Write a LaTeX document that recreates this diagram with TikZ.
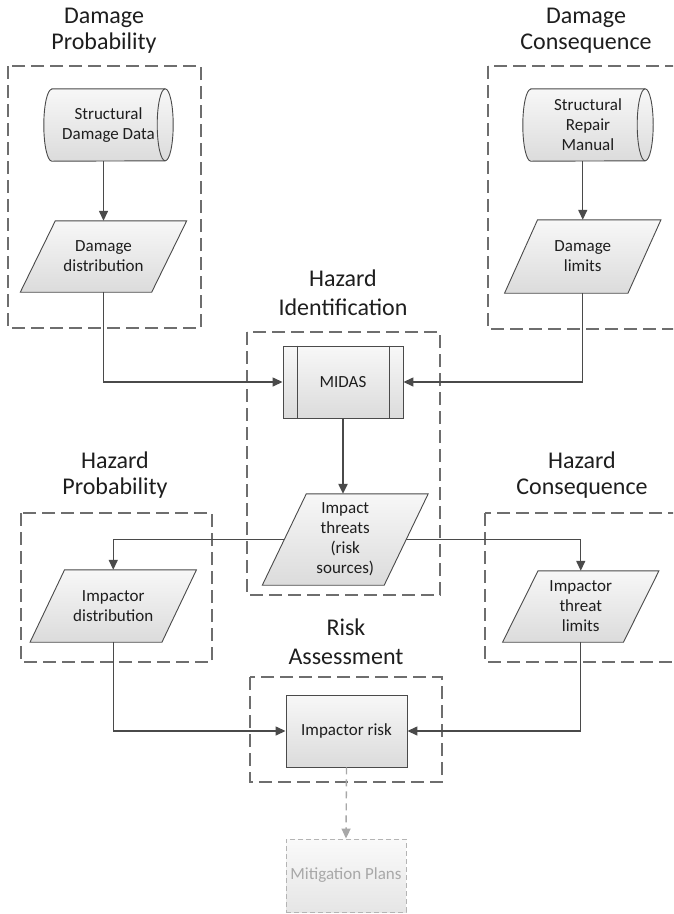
\documentclass[tikz,border=0pt]{standalone}
\usepackage{fontspec}
\setmainfont{Carlito}
\usetikzlibrary{shapes.geometric,arrows.meta,backgrounds}
\definecolor{linec}{HTML}{4A4A4A}
\definecolor{dashc}{HTML}{6E6E6E}
\definecolor{txt}{HTML}{1E1E1E}
\definecolor{mitc}{HTML}{A8A8A8}
\definecolor{mitl}{HTML}{B4B4B4}
\begin{document}
\begin{tikzpicture}[x=1pt,y=-1pt,
  grp/.style={draw=dashc,line width=1.2pt,dash pattern=on 13pt off 6pt},
  ttl/.style={font=\fontsize{24}{29}\selectfont,text=txt,anchor=base,inner sep=0pt},
  lbl/.style={font=\fontsize{17}{20}\selectfont,text=txt,align=center},
  shd/.style={top color=white!97!black,bottom color=white!86!black},
  proc/.style={lbl,shd,draw=linec,line width=0.9pt,minimum width=121pt,minimum height=72pt,inner sep=0pt},
  io/.style={lbl,inner sep=0pt},
  iop/.style={shd,draw=linec,line width=0.9pt},
  conn/.style={draw=linec,line width=1.4pt,-{Triangle[length=10pt,width=9pt]}},
  mit/.style={lbl,top color=white!98!black,bottom color=white!90!black,draw=mitl,line width=0.9pt,dash pattern=on 5pt off 3pt,text=mitc,minimum width=120pt,minimum height=73pt,inner sep=0pt},
  mitarrow/.style={draw=mitc,line width=1.4pt,dash pattern=on 7pt off 5pt,-{Triangle[length=10pt,width=9pt]}},
]
\useasboundingbox (0,0) rectangle (673,914);
\clip (0,0) rectangle (673,914);

% group boxes
\draw[grp] (8,66) rectangle (201,328);
\draw[grp] (488,66) rectangle (700,329);
\draw[grp] (247,332) rectangle (440,595);
\draw[grp] (21,513) rectangle (212,662);
\draw[grp] (485,513) rectangle (700,662);
\draw[grp] (250,677) rectangle (442,782);

% titles
\node[ttl] (t1a) at (104,23.5) {Damage};
\node[ttl] (t1b) at (104,49.5) {Probability};
\node[ttl] (t2a) at (586,23.5) {Damage};
\node[ttl] (t2b) at (586,49.5) {Consequence};
\node[ttl] (t3a) at (343,286) {Hazard};
\node[ttl] (t3b) at (343,315) {Identification};
\node[ttl] (t4a) at (115,468) {Hazard};
\node[ttl] (t4b) at (115,494) {Probability};
\node[ttl] (t5a) at (582,468) {Hazard};
\node[ttl] (t5b) at (582,494) {Consequence};
\node[ttl] (t6a) at (346,635) {Risk};
\node[ttl] (t6b) at (346,664) {Assessment};

% shapes
\node[io,minimum width=129pt,minimum height=72pt] (sdd) at (108.5,125) {Structural\\Damage Data};
\node[io,minimum width=130pt,minimum height=72pt] (srm) at (588,125) {Structural\\Repair\\Manual};
\node[io,minimum width=131pt,minimum height=71pt] (dd) at (103.5,256.5) {Damage\\distribution};
\node[io,minimum width=123pt,minimum height=73pt] (dl) at (582.75,256.5) {Damage\\limits};
\node[proc,minimum width=120pt] (midas) at (343,382) {MIDAS};
\draw[linec,line width=0.9pt] ([xshift=15pt]midas.north west) -- ([xshift=15pt]midas.south west);
\draw[linec,line width=0.9pt] ([xshift=-14pt]midas.north east) -- ([xshift=-14pt]midas.south east);
\node[io,minimum width=121.5pt,minimum height=91pt] (it) at (345.25,539.5) {Impact\\threats\\(risk\\sources)};
\node[io,minimum width=131.5pt,minimum height=72pt] (id) at (113.25,606) {Impactor\\distribution};
\node[io,minimum width=120.5pt,minimum height=71pt] (itl) at (580.75,606.5) {Impactor\\threat\\limits};
\node[proc] (ir) at (346.5,731) {Impactor risk};
\node[mit] (mp) at (346,875.5) {Mitigation Plans};

\begin{scope}[on background layer]
\foreach \n/\s in {dd/17.5,dl/16.5,it/22,id/17.25,itl/17.75}
  \path[iop] ([xshift=\s pt]\n.north west) -- ([xshift=\s pt]\n.north east)
     -- ([xshift=-\s pt]\n.south east) -- ([xshift=-\s pt]\n.south west) -- cycle;
\foreach \n in {sdd,srm}{
  \path[iop] ([xshift=8pt]\n.north west) -- ([xshift=-8pt]\n.north east)
     arc[start angle=-90,end angle=90,x radius=8,y radius=36]
     -- ([xshift=8pt]\n.south west)
     arc[start angle=90,end angle=270,x radius=8,y radius=36] -- cycle;
  \draw[linec,line width=0.9pt] ([xshift=-8pt]\n.north east)
     arc[start angle=-90,end angle=-270,x radius=8,y radius=36];
}
\end{scope}

% connectors
\draw[conn] (sdd.south -| dd.north) -- (dd.north);
\draw[conn] (dd.south) |- (midas.west);
\draw[conn] (srm.south -| dl.north) -- (dl.north);
\draw[conn] (dl.south) |- (midas.east);
\draw[conn,line width=2.2pt] (midas.south) -- (midas.south |- it.north);
\draw[conn] (it.west) -| (id.north);
\draw[conn] (it.east) -| (itl.north);
\draw[conn] (id.south) |- (ir.west);
\draw[conn] (itl.south) |- (ir.east);
\draw[mitarrow] (ir.south) -- (mp.north);
\end{tikzpicture}
\end{document}
